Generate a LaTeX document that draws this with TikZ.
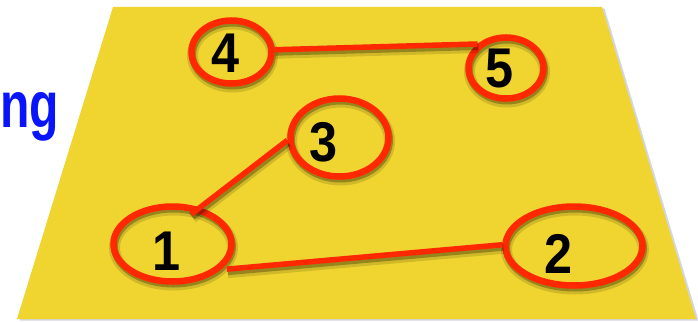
\documentclass[tikz,border=0pt]{standalone}
\usepackage{fontspec}
\usetikzlibrary{shapes.geometric}
\newfontfamily\digitfont[FakeStretch=0.9]{Liberation Sans}
\newfontfamily\wordfont[FakeStretch=0.74]{Liberation Sans}
\definecolor{plane}{RGB}{240,213,48}
\definecolor{ringred}{RGB}{255,40,0}
\definecolor{wordblue}{RGB}{10,20,250}
\definecolor{planeshadow}{RGB}{175,180,200}
\begin{document}
\begin{tikzpicture}[x=1pt,y=-1pt,
  ringshadow/.style={
    preaction={draw=black,opacity=0.13,line width=11pt,transform canvas={xshift=1pt,yshift=-3.5pt}},
    preaction={draw=black,opacity=0.28,line width=7pt,transform canvas={xshift=1pt,yshift=-2.5pt}}},
  ringnode/.style={ellipse, draw=ringred, line width=6.5pt, inner sep=0pt, ringshadow},
  linkline/.style={draw=ringred, line width=5.5pt, ringshadow},
  digit/.style={anchor=base, inner sep=0pt, text=black,
    font=\digitfont\bfseries\fontsize{56}{56}\selectfont},
]
\useasboundingbox (0,0) rectangle (698,321);
\clip (0,0) rectangle (698,321);
\fill[white] (0,0) rectangle (698,321);

% yellow plane with soft shadow
\fill[planeshadow, opacity=0.55, transform canvas={xshift=2.5pt,yshift=-1.5pt}]
  (113,7) -- (602,7) -- (696,319) -- (17,319) -- cycle;
\fill[plane] (113,7) -- (602,7) -- (696,319) -- (17,319) -- cycle;

% cut-off word on the left
\node[anchor=base west, inner sep=0pt, text=wordblue,
  font=\wordfont\bfseries\fontsize{65}{65}\selectfont] (word) at (0.3,127) {ng};

% rings
\node[ringnode, minimum width=80pt, minimum height=63pt] (e4) at (231.5,52) {};
\node[ringnode, minimum width=75pt, minimum height=61pt] (e5) at (506,68) {};
\node[ringnode, minimum width=98pt, minimum height=78pt] (e3) at (339.5,137.5) {};
\node[ringnode, minimum width=118pt, minimum height=75pt] (e1) at (172.5,244) {};
\node[ringnode, minimum width=137pt, minimum height=79pt] (e2) at (574,246) {};

% digits
\node[digit] (d4) at (226,72) {4};
\node[digit] (d5) at (500,87.5) {5};
\node[digit] (d3) at (323.5,161) {3};
\node[digit] (d1) at (167,270) {1};
\node[digit] (d2) at (558.5,273) {2};

% connectors
\draw[linkline] (e4.3) -- (e5.140);
\draw[linkline, shorten >=-11pt] (e3.183) -- (e1.53);
\draw[linkline, shorten <=6pt] (e1.-28) -- (e2.179);
\end{tikzpicture}
\end{document}
